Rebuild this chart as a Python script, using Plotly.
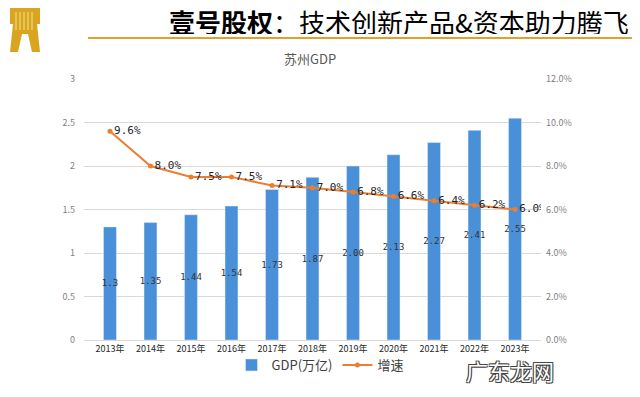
import plotly.graph_objects as go

years = ["2013年", "2014年", "2015年", "2016年", "2017年", "2018年", "2019年", "2020年", "2021年", "2022年", "2023年"]
gdp = [1.3, 1.35, 1.44, 1.54, 1.73, 1.87, 2.00, 2.13, 2.27, 2.41, 2.55]
gdp_labels = ["1.3", "1.35", "1.44", "1.54", "1.73", "1.87", "2.00", "2.13", "2.27", "2.41", "2.55"]
growth = [9.6, 8.0, 7.5, 7.5, 7.1, 7.0, 6.8, 6.6, 6.4, 6.2, 6.0]
growth_labels = ["9.6%", "8.0%", "7.5%", "7.5%", "7.1%", "7.0%", "6.8%", "6.6%", "6.4%", "6.2%", "6.0%"]
left_ticks = [0, 0.5, 1, 1.5, 2, 2.5, 3]
right_ticks = [0, 2, 4, 6, 8, 10, 12]
right_tick_labels = ["0.0%", "2.0%", "4.0%", "6.0%", "8.0%", "10.0%", "12.0%"]

FONT = "Noto Sans CJK SC"
BLUE = "#4A90D9"
ORANGE = "#ED7D31"

# page body has an 8px default margin; work in screen pixels and offset
OFF = 8
FW, FH = 640 - OFF, 397 - OFF
L, R, T, B = 84 - OFF, 541 - OFF, 79 - OFF, 340 - OFF
W, H = R - L, B - T
px = lambda v: (v - OFF - L) / W
py = lambda v: (B - (v - OFF)) / H

fig = go.Figure()
fig.add_trace(go.Bar(
    x=years, y=gdp, name="GDP(万亿)", marker_color=BLUE,
    text=gdp_labels, textposition="inside", insidetextanchor="middle",
    constraintext="none", textangle=0,
    textfont=dict(family="DejaVu Sans Mono", size=9, color="#333333"),
    yaxis="y",
))
fig.add_trace(go.Scatter(
    x=years, y=growth, name="增速", mode="lines+markers+text",
    line=dict(color=ORANGE, width=2), marker=dict(color=ORANGE, size=5),
    text=growth_labels, textposition="middle right",
    textfont=dict(family="DejaVu Sans Mono", size=11, color="#262626"),
    yaxis="y2",
))

fig.update_layout(
    width=FW, height=FH,
    margin=dict(l=L, r=FW - R, t=T, b=FH - B, autoexpand=False),
    paper_bgcolor="white", plot_bgcolor="white",
    font=dict(family=FONT, color="#595959"),
    bargap=0.68,
    showlegend=True,
    legend=dict(orientation="h", x=px(320), xanchor="center", y=py(365), yanchor="middle",
                font=dict(size=13, color="#404040", family=FONT), itemwidth=30,
                tracegroupgap=0, bgcolor="rgba(0,0,0,0)"),
    xaxis=dict(showgrid=False, showline=True, linecolor="#D9D9D9", ticks="",
               tickfont=dict(size=9, color="#262626", family=FONT)),
    yaxis=dict(range=[0, 3], tickvals=left_ticks, showgrid=True, gridcolor="#D9D9D9",
               zeroline=False, ticks="", tickfont=dict(size=9, color="#7f7f7f"), ticklabelstandoff=8),
    yaxis2=dict(range=[0, 12], tickvals=right_ticks, ticktext=right_tick_labels,
                overlaying="y", side="right", showgrid=False, zeroline=False,
                ticks="", tickfont=dict(size=9, color="#7f7f7f"), ticklabelstandoff=4),
)

fig.add_annotation(text="苏州GDP", xref="paper", yref="paper", x=px(310), y=py(58),
                   yanchor="middle", showarrow=False, font=dict(size=13, color="#595959", family=FONT))
fig.add_annotation(text="<b>壹号股权</b>：技术创新产品&资本助力腾飞", xref="paper", yref="paper",
                   x=px(631), xanchor="right", y=py(21), yanchor="middle", height=26,
                   showarrow=False, font=dict(size=26, color="#000000", family=FONT))
fig.add_annotation(text="广东龙网", xref="paper", yref="paper",
                   x=px(556), y=py(370), yanchor="middle", showarrow=False,
                   font=dict(size=22, color="white", family=FONT,
                             shadow="1px 1px 0 #444, -1px -1px 0 #444, 1px -1px 0 #444, -1px 1px 0 #444"))

# header line and logo
fig.add_shape(type="line", xref="paper", yref="paper", x0=px(88), x1=px(640),
              y0=py(38), y1=py(38), line=dict(color="#E0A030", width=2))
logo = ("M {a},{b} L {c},{b} L {c},{d} L {e},{d} L {f},{g} L {h},{g} L {i},{j} L {k},{j} L {l},{g} L {m},{g} L {n},{d} L {a},{d} Z"
        .format(a=px(10), b=py(4), c=px(40), d=py(24), e=px(37), f=px(40), g=py(52),
                h=px(32), i=px(28), j=py(34), k=px(22), l=px(18), m=px(10), n=px(13)))
fig.add_shape(type="path", xref="paper", yref="paper", path=logo,
              fillcolor="#D9A520", line=dict(width=0))
for xv in [16, 20, 24, 28, 32]:
    fig.add_shape(type="line", xref="paper", yref="paper", x0=px(xv), x1=px(xv),
                  y0=py(12), y1=py(30), line=dict(color="#F6E08A", width=1))

fig.write_html("out.html")
